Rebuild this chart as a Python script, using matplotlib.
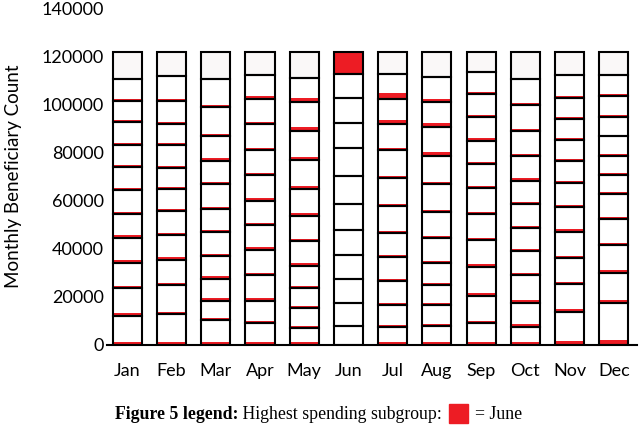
import matplotlib
matplotlib.use("Agg")
import matplotlib.pyplot as plt
from matplotlib.patches import Rectangle

months = ["Jan", "Feb", "Mar", "Apr", "May", "Jun",
          "Jul", "Aug", "Sep", "Oct", "Nov", "Dec"]

# upper edge of each subgroup, bottom to top (last one = bar total)
bounds = [
    [12000, 23500, 34200, 44600, 54500, 64400, 74100, 83200, 92500, 101400, 110700, 121700],
    [12700, 24800, 35200, 45800, 55600, 64900, 73700, 83100, 91800, 101200, 111800, 121700],
    [10400, 18200, 27600, 37000, 46900, 56600, 66700, 76600, 86900, 98900, 110400, 121700],
    [9000, 18400, 29000, 39600, 49700, 60000, 70700, 81000, 91800, 102400, 112100, 121700],
    [7100, 15300, 23700, 33000, 43100, 53800, 64900, 76900, 89000, 101000, 111100, 121700],
    [8000, 17600, 27200, 37400, 47600, 58700, 70400, 81700, 92200, 102800, 112500, 121700],
    [7400, 16700, 26500, 36600, 46600, 57800, 69400, 81000, 91800, 102100, 112500, 121700],
    [7700, 16600, 24800, 34000, 44400, 55300, 66900, 78400, 90400, 101000, 111500, 121700],
    [9000, 20400, 32300, 43600, 54500, 65300, 75200, 84900, 94800, 104200, 113400, 121700],
    [7600, 17600, 28900, 38900, 48600, 58500, 68300, 78400, 89000, 99800, 110700, 121700],
    [13600, 25200, 36100, 46900, 57300, 67200, 76600, 85300, 93800, 102500, 112200, 121700],
    [17600, 30100, 41500, 52400, 62700, 70800, 78700, 86700, 94900, 103500, 112200, 121700],
]

# red (June) share sitting at the bottom of each of the lower 11 subgroups
june_part = [
    [500, 700, 500, 500, 450, 450, 450, 450, 450, 450, 500],
    [500, 700, 600, 800, 450, 450, 450, 400, 400, 450, 450],
    [500, 500, 700, 450, 450, 450, 450, 450, 450, 450, 450],
    [450, 500, 700, 400, 450, 450, 450, 450, 450, 500, 450],
    [400, 400, 400, 450, 500, 500, 450, 700, 700, 1000, 1100],
    [0, 0, 0, 0, 0, 0, 0, 0, 0, 0, 0],
    [400, 450, 400, 400, 450, 450, 450, 450, 500, 1100, 2200],
    [400, 450, 400, 400, 450, 450, 450, 500, 1200, 1300, 700],
    [400, 500, 700, 700, 500, 450, 450, 450, 700, 450, 400],
    [400, 700, 800, 700, 500, 450, 500, 700, 500, 450, 400],
    [1100, 800, 500, 500, 700, 500, 500, 400, 400, 400, 400],
    [1400, 700, 500, 500, 450, 500, 400, 400, 300, 400, 300],
]

red = "#ED1C24"
topgray = "#FAF8F8"
w = 0.66
edge_gap = 450  # part of the band hidden under the outline

fig = plt.figure(figsize=(6.4, 4.29), dpi=100)
ax = fig.add_axes([0.167, 0.196, 0.828, 0.785])

for i, m in enumerate(months):
    b = bounds[i]
    bottoms = [0] + b[:-1]
    heights = [t - s for s, t in zip(bottoms, b)]
    n = len(b)
    fills = ["white"] * (n - 1) + [red if m == "Jun" else topgray]
    ax.bar([i] * n, heights, bottom=bottoms, width=w, color=fills, lw=0, zorder=1)
    band = [p + edge_gap if p > 0 else 0 for p in june_part[i]]
    # the bottom band also has to clear the x axis line
    if band[0] > 0:
        band[0] += 250
    ax.bar([i] * (n - 1), band, bottom=bottoms[:-1], width=w,
           color=red, lw=0, zorder=2)
    ax.bar([i] * n, heights, bottom=bottoms, width=w, fill=False,
           edgecolor="black", lw=1.5, zorder=3)

ax.set_xlim(-0.46, 11.52)
ax.set_ylim(0, 140000)
ax.set_yticks(range(0, 140001, 20000))
ax.set_xticks(range(len(months)))
ax.set_xticklabels(months)
for s in ["top", "right", "left"]:
    ax.spines[s].set_visible(False)
ax.spines["bottom"].set_linewidth(1.5)
ax.spines["bottom"].set_zorder(4)
ax.tick_params(axis="both", length=0, labelsize=13)
ax.tick_params(axis="x", pad=13)
ax.tick_params(axis="y", pad=2)
for lab in ax.get_xticklabels() + ax.get_yticklabels():
    lab.set_family("Lato")
ax.set_ylabel("Monthly Beneficiary Count", fontsize=13.5, family="Lato", labelpad=14)

# caption line under the chart
fig.canvas.draw()
r = fig.canvas.get_renderer()
y = 0.024
fs = 12.8
t1 = fig.text(115 / 640, y, "Figure 5 legend:", family="Liberation Serif",
              weight="bold", fontsize=fs)
bb = t1.get_window_extent(r)
t2 = fig.text(bb.x1 / 640, y, " Highest spending subgroup: ",
              family="Liberation Serif", fontsize=fs)
bb = t2.get_window_extent(r)
sq = Rectangle((bb.x1 / 640 + 0.004, y - 0.01), 19 / 640, 19 / 429,
               transform=fig.transFigure, color=red)
fig.patches.append(sq)
fig.text(bb.x1 / 640 + 0.004 + 26 / 640, y, "= June",
         family="Liberation Serif", fontsize=fs)

fig.savefig("out.png", dpi=100)
